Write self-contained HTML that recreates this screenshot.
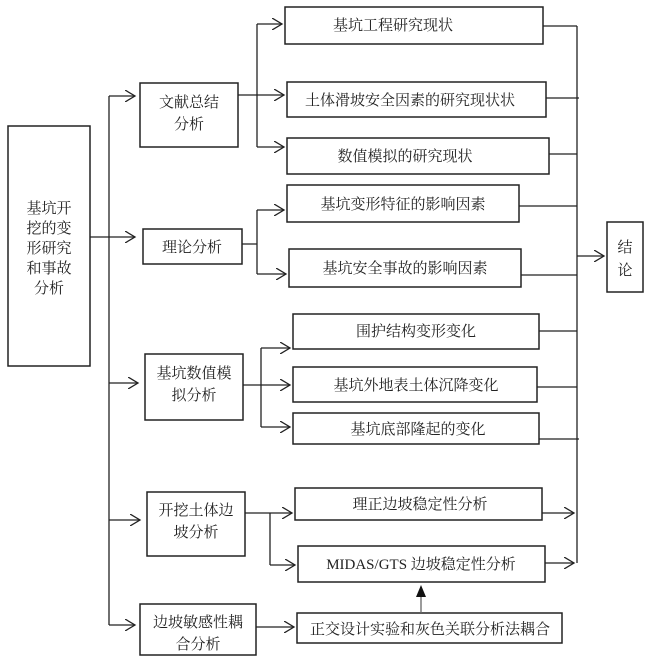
<!DOCTYPE html>
<html><head><meta charset="utf-8"><style>body{margin:0;background:#fff}svg{display:block}text{font-family:"Liberation Serif","Noto Serif CJK SC",serif;font-size:15px;fill:#222}</style></head><body>
<svg width="645" height="660" viewBox="0 0 645 660" xmlns="http://www.w3.org/2000/svg">
<defs><marker id="a" markerWidth="12" markerHeight="12" refX="10" refY="6" orient="auto" markerUnits="userSpaceOnUse"><path d="M0,0 L10,6 L0,12" fill="none" stroke="#222" stroke-width="1.3"/></marker>
<marker id="t" markerWidth="10" markerHeight="12" refX="5" refY="0" orient="auto-start-reverse" markerUnits="userSpaceOnUse"></marker></defs>
<g fill="none" stroke="#222" stroke-width="1.5">
<rect x="8" y="126" width="82" height="240"/>
<rect x="140" y="83" width="98" height="64"/>
<rect x="143" y="229" width="99" height="35"/>
<rect x="145" y="354" width="98" height="66"/>
<rect x="147" y="492" width="98" height="64"/>
<rect x="140" y="604" width="116" height="51"/>
<rect x="285" y="7" width="258" height="37"/>
<rect x="287" y="82" width="259" height="35"/>
<rect x="287" y="138" width="262" height="36"/>
<rect x="287" y="185" width="232" height="37"/>
<rect x="289" y="249" width="232" height="38"/>
<rect x="293" y="314" width="246" height="35"/>
<rect x="293" y="367" width="244" height="35"/>
<rect x="293" y="413" width="246" height="31"/>
<rect x="295" y="488" width="247" height="32"/>
<rect x="298" y="546" width="247" height="36"/>
<rect x="297" y="613" width="265" height="30"/>
<rect x="607" y="222" width="36" height="70"/>
</g>
<g fill="none" stroke="#222" stroke-width="1.3">
<path d="M109 96V625"/>
<path d="M90 237H135" marker-end="url(#a)"/>
<path d="M109 96H135" marker-end="url(#a)"/>
<path d="M109 383H138" marker-end="url(#a)"/>
<path d="M109 520H140" marker-end="url(#a)"/>
<path d="M109 625H135" marker-end="url(#a)"/>
<path d="M257 24V147"/>
<path d="M257 24H282" marker-end="url(#a)"/>
<path d="M238 95H284" marker-end="url(#a)"/>
<path d="M257 147H284" marker-end="url(#a)"/>
<path d="M242 244H257M257 210V274"/>
<path d="M257 210H284" marker-end="url(#a)"/>
<path d="M257 274H286" marker-end="url(#a)"/>
<path d="M261 348V427"/>
<path d="M261 348H290" marker-end="url(#a)"/>
<path d="M243 385H290" marker-end="url(#a)"/>
<path d="M261 427H290" marker-end="url(#a)"/>
<path d="M245 513H292" marker-end="url(#a)"/>
<path d="M270 513V565"/>
<path d="M270 565H295" marker-end="url(#a)"/>
<path d="M256 627H294" marker-end="url(#a)"/>
<path d="M577 26V563"/>
<path d="M543 26H577M546 98H579M549 154H577M519 206H577M521 275H577M539 331H577M537 387H577M539 439H579"/>
<path d="M542 513H574" marker-end="url(#a)"/>
<path d="M545 563H574" marker-end="url(#a)"/>
<path d="M577 256H604" marker-end="url(#a)"/>
<path d="M421 613V597" stroke="#666"/>
</g>
<path d="M416 597L421 585L426 597Z" fill="#111"/>
<g text-anchor="middle">
<text x="49" y="213">基坑开</text><text x="49" y="233">挖的变</text><text x="49" y="253">形研究</text><text x="49" y="273">和事故</text><text x="49" y="293">分析</text>
<text x="189" y="107">文献总结</text><text x="189" y="129">分析</text>
<text x="192" y="252">理论分析</text>
<text x="194" y="378">基坑数值模</text><text x="194" y="400">拟分析</text>
<text x="196" y="515">开挖土体边</text><text x="196" y="537">坡分析</text>
<text x="198" y="627">边坡敏感性耦</text><text x="198" y="649">合分析</text>
<text x="393" y="30">基坑工程研究现状</text>
<text x="410" y="105">土体滑坡安全因素的研究现状状</text>
<text x="405" y="161">数值模拟的研究现状</text>
<text x="403" y="209">基坑变形特征的影响因素</text>
<text x="405" y="273">基坑安全事故的影响因素</text>
<text x="416" y="336">围护结构变形变化</text>
<text x="416" y="390">基坑外地表土体沉降变化</text>
<text x="418" y="434">基坑底部隆起的变化</text>
<text x="420" y="509">理正边坡稳定性分析</text>
<text x="421" y="569">MIDAS/GTS 边坡稳定性分析</text>
<text x="430" y="634">正交设计实验和灰色关联分析法耦合</text>
<text x="625" y="252">结</text><text x="625" y="275">论</text>
</g>
</svg>
</body></html>
